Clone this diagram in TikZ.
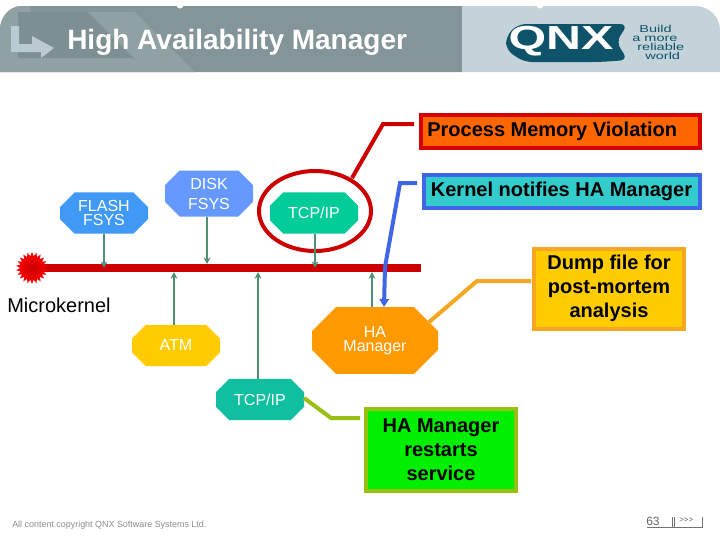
\documentclass[tikz,border=0pt]{standalone}
\usepackage{fontspec}
\setmainfont{Liberation Sans}
\usetikzlibrary{shapes.misc,shapes.geometric,arrows.meta}
\definecolor{hdrdark}{HTML}{84959A}
\definecolor{hdrdeep}{HTML}{7E8F94}
\definecolor{hdrmid}{HTML}{90A1A4}
\definecolor{hdrlight}{HTML}{C3D3D9}
\definecolor{logoteal}{HTML}{0E5369}
\definecolor{flashc}{HTML}{3F99F5}
\definecolor{diskc}{HTML}{6699FF}
\definecolor{tcpa}{HTML}{00CC99}
\definecolor{tcpb}{HTML}{0FBFA0}
\definecolor{atmc}{HTML}{FFCC00}
\definecolor{hac}{HTML}{FF9900}
\definecolor{barred}{HTML}{CC0000}
\definecolor{linkgreen}{HTML}{4F8F73}
\definecolor{bluebd}{HTML}{3F66E6}
\definecolor{orangebd}{HTML}{F5A623}
\definecolor{limebd}{HTML}{99C010}
\definecolor{procfill}{HTML}{FF6600}
\definecolor{kernfill}{HTML}{33CCCC}
\definecolor{restfill}{HTML}{00F000}
\tikzset{
  x=0.75pt,y=-0.75pt,
  proc/.style={chamfered rectangle,
    chamfered rectangle xsep=5.5pt,chamfered rectangle ysep=5.5pt,
    draw=none,inner sep=0pt,outer sep=0pt,text=white,align=center,
    font=\fontsize{12}{10.5}\selectfont,minimum width=66pt,minimum height=31pt},
  callout/.style={rectangle,line width=3pt,inner sep=0pt,outer sep=0pt,align=center,
    font=\bfseries\fontsize{15}{18}\selectfont,text=black},
  link/.style={draw=linkgreen,line width=1.6pt,-{Stealth[length=5pt,width=5pt]}},
  lead/.style={line width=3pt,line join=miter},
  tagline/.style={text=logoteal,inner sep=0pt,anchor=base west,xscale=1.45,font=\fontsize{7.5}{7}\selectfont},
}
\begin{document}
\begin{tikzpicture}
\useasboundingbox (0,0) rectangle (720,540);
\fill[white] (0,0) rectangle (720,540);
% header
\fill[hdrdark] (0,72) -- (0,30) to[out=90,in=180] (22,6) -- (462,6) -- (462,72) -- cycle;
\fill[hdrmid] (0,72) -- (0,30) to[out=90,in=180] (22,6) -- (30,6) -- (30,12) -- (18,12) -- (18,58) -- (134,58) -- (148,72) -- cycle;
\fill[hdrdeep] (18,12) -- (88,12) -- (134,58) -- (18,58) -- cycle;
\fill[hdrmid] (88,12) -- (135,12) -- (195,72) -- (148,72) -- cycle;
\fill[hdrlight] (462,6) -- (695,6) to[out=0,in=90] (720,30) -- (720,72) -- (462,72) -- cycle;
\fill[white] (180,5) circle (3.5);
\fill[white] (540,5) circle (3.5);
\fill[hdrlight!85!hdrdark] (11,26) -- (19,26) -- (19,44) -- (32,44) -- (32,36) -- (54,48) -- (41,58) -- (41,52) -- (11,52) -- cycle;
\node[anchor=base west,text=white,inner sep=0pt,font=\bfseries\fontsize{21}{24}\selectfont] (title) at (67,49) {High Availability Manager};
% logo
\fill[logoteal,rounded corners=6pt] (506,36) -- (518,24) -- (628,24) -- (616,42) -- (628,60) -- (600,62) -- (524,62) -- (506,50) -- cycle;
\node[text=white,inner sep=0pt,font=\bfseries\fontsize{25}{25}\selectfont,xscale=1.45] (logo) at (561,41) {QNX};
\node[tagline] (t1) at (639,32) {Build};
\node[tagline] (t2) at (632,41) {a more};
\node[tagline] (t3) at (637,50) {reliable};
\node[tagline] (t4) at (645,59) {world};
% bar
\node[rectangle,fill=barred,inner sep=0pt,outer sep=0pt,minimum width=391*0.75pt,minimum height=6pt,anchor=west] (bar) at (30,268) {};
\node[star,star points=22,star point ratio=1.35,minimum size=24pt,inner sep=0pt,inner color=barred,outer color=red] (burst) at (32,268) {};
\node[anchor=west,inner sep=0pt,font=\fontsize{15}{18}\selectfont] (mk) at (7,305) {Microkernel};
% processes
\node[proc,fill=flashc] (flash) at (104,213) {FLASH\\FSYS};
\node[proc,fill=diskc,font=\fontsize{12}{15}\selectfont] (disk) at (209,193.5) {DISK\\FSYS};
\node[proc,fill=tcpa] (tcpa) at (314,213) {TCP/IP};
\node[proc,fill=atmc] (atm) at (176,345.5) {\raisebox{1.5pt}{ATM}};
\node[proc,fill=hac,minimum width=94.5pt,minimum height=50pt,chamfered rectangle xsep=9pt,chamfered rectangle ysep=9pt] (ha) at (375,340.5) {HA\\Manager};
\node[proc,fill=tcpb] (tcpb) at (260,399.5) {TCP/IP};
% callouts
\node[callout,draw=red!85!black,fill=procfill,minimum width=209pt,minimum height=25pt] (pmv) at (560.5,131.5) {\raisebox{-1.5pt}{\hspace*{-12.5pt}Process Memory Violation}};
\node[callout,draw=bluebd,fill=kernfill,minimum width=207pt,minimum height=25pt] (kn) at (561.5,191.5) {\raisebox{-1.5pt}{Kernel notifies HA Manager}};
\node[callout,draw=orangebd,fill=atmc,minimum width=112pt,minimum height=60pt] (dump) at (609,288.5) {Dump file for\\post-mortem\\analysis};
\node[callout,draw=limebd,fill=restfill,minimum width=112pt,minimum height=61pt] (hr) at (441,450) {HA Manager\\restarts\\service};
% ring
\node[ellipse,draw=barred,line width=3pt,minimum width=84pt,minimum height=60pt,inner sep=0pt,outer sep=0pt] (ring) at (315,211) {};
% connectors
\draw[link] (flash.south) -- (flash.south |- bar.center);
\draw[link] (disk.south -| 207,0) -- (207,264);
\draw[link] (315,234) -- (315,268);
\draw[link] (atm.north -| 174,0) -- (174,272);
\draw[link] (258,379) -- (258,272);
\draw[link] (372,307) -- (372,272);
\coordinate (p1) at (383,124);
\coordinate (b1) at (400,183);
\coordinate (b2) at (385,267);
\coordinate (o1) at (477,281);
\coordinate (g1) at (331,418);
\draw[lead,draw=barred] (414,124) -- (p1) -- (352,178);
\draw[lead,draw=bluebd,-{Stealth[length=6pt,width=7pt,inset=0pt]}] (417,183) -- (b1) -- (b2) -- (384,307);
\draw[lead,draw=orangebd] (531,281) -- (o1) -- (428,323);
\draw[lead,draw=limebd] (304,398) -- (g1) -- (360,418);
% footer
\node[anchor=west,inner sep=0pt,text=black!45,font=\fontsize{6.7}{8}\selectfont] (copy) at (12,525) {All content copyright QNX Software Systems Ltd.};
\node[anchor=west,inner sep=0pt,text=black!60,font=\fontsize{9}{10}\selectfont] (pg) at (646,521) {63};
\node[anchor=west,inner sep=0pt,text=black!60,font=\fontsize{6}{8}\selectfont] (nx) at (679,520) {{>}{>}{>}};
\draw[black!55,line width=.5pt] (647,527) -- (702,527) -- (702,517);
\draw[black!55,line width=.6pt] (672,517) -- (672,527) (674.5,517) -- (674.5,527);
\end{tikzpicture}
\end{document}
